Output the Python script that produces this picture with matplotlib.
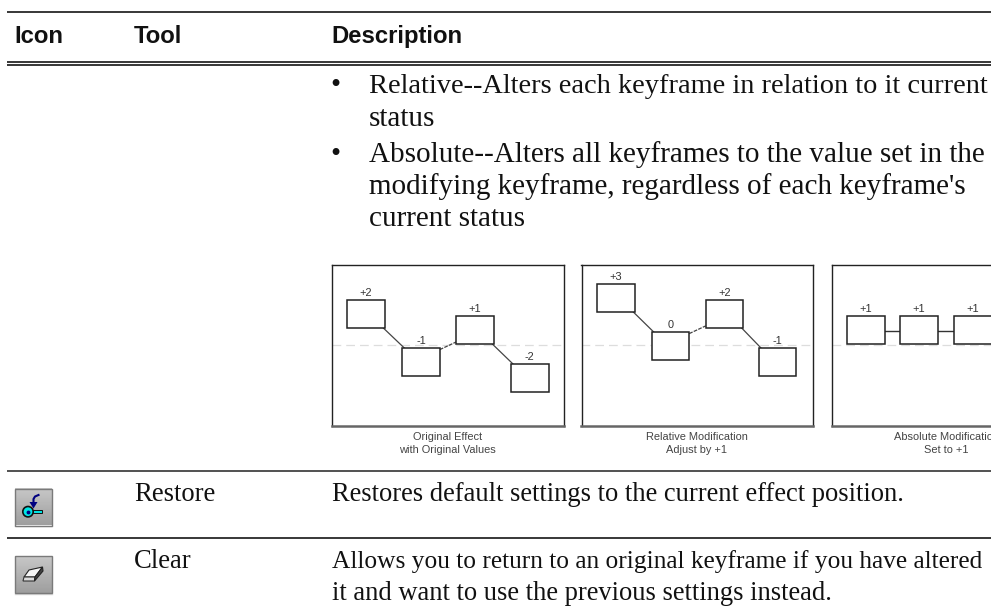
import matplotlib
matplotlib.use("Agg")
import matplotlib.pyplot as plt
import numpy as np
from matplotlib.patches import Rectangle, Polygon, Circle

W, H = 991, 613

# table text
headers = ["Icon", "Tool", "Description"]
header_x = [14.5, 133.5, 331.5]
bullet_1 = ["Relative--Alters each keyframe in relation to it current", "status"]
bullet_2 = ["Absolute--Alters all keyframes to the value set in the",
            "modifying keyframe, regardless of each keyframe's",
            "current status"]
restore_text = ["Restores default settings to the current effect position."]
clear_text = ["Allows you to return to an original keyframe if you have altered",
              "it and want to use the previous settings instead."]

# keyframe values of the three small diagrams
original_values = [2, -1, 1, -2]
original_labels = ["+2", "-1", "+1", "-2"]
relative_values = [3, 0, 2, -1]
relative_labels = ["+3", "0", "+2", "-1"]
absolute_values = [1, 1, 1]
absolute_labels = ["+1", "+1", "+1"]
captions = [["Original Effect", "with Original Values"],
            ["Relative Modification", "Adjust by +1"],
            ["Absolute Modification", "Set to +1"]]

fig = plt.figure(figsize=(W / 100, H / 100), dpi=100)
ax = fig.add_axes([0, 0, 1, 1])
ax.set_xlim(0, W)
ax.set_ylim(H, 0)
ax.axis("off")


def px(size):
    return size * 0.72


def serif(x, y, s, size=26.5):
    ax.text(x, y, s, family="Liberation Serif", fontsize=px(size), color="#111111",
            va="baseline", ha="left")


def rule(y, lw=1.2, color="#151515"):
    ax.plot([7, W], [y, y], color=color, lw=lw, solid_capstyle="butt")


# rules
rule(11.5)
rule(62.3)
rule(65.3)
rule(470.7, color="#333333")
rule(538)

# header
for x, s in zip(header_x, headers):
    ax.text(x, 43, s, family="Liberation Sans", fontweight="bold", fontsize=px(23.9),
            color="#111111", va="baseline", ha="left")

# bullets
big = 29.1
ax.text(330, 93, "•", family="Liberation Serif", fontsize=px(big), color="#111111", va="baseline")
ax.text(330, 161.7, "•", family="Liberation Serif", fontsize=px(big), color="#111111", va="baseline")
serif(369, 93, bullet_1[0], 28.4)
serif(369, 125.7, bullet_1[1], big)
serif(369, 161.7, bullet_2[0], big)
serif(369, 194, bullet_2[1], big)
serif(369, 225.7, bullet_2[2], big)

# rows
serif(134, 501, "Restore", 26.6)
serif(332, 501, restore_text[0])
serif(134, 567.7, "Clear", 26.6)
serif(332, 567.7, clear_text[0], 25.4)
serif(332, 600, clear_text[1])


def diagram(left, right, xs, values, labels, caption, cx):
    top, bottom = 265, 426
    panel = fig.add_axes([left / W, 1 - bottom / H, (right - left) / W, (bottom - top) / H])
    panel.set_xlim(left, right)
    # keyframe value 0 has its box top at y=332, one unit is 16 px
    panel.set_ylim((332 - bottom) / 16, (332 - top) / 16)
    panel.set_xticks([])
    panel.set_yticks([])
    panel.patch.set_alpha(0)
    for sp in panel.spines.values():
        sp.set_linewidth(1.0)
        sp.set_color("#222222")
    panel.spines["bottom"].set_linewidth(1.8)
    panel.spines["bottom"].set_color("#666666")
    # baseline
    base = (332 - 345) / 16
    panel.plot([left, right], [base, base], color="#dddddd", lw=0.9, dashes=(7, 4))
    bw, bh = 37.5, 27.5 / 16
    # connectors first
    for i in range(len(values) - 1):
        a, b = values[i], values[i + 1]
        x0, x1 = xs[i] + bw, xs[i + 1]
        if a > b:
            # down to the top corner of the next box
            panel.plot([x0 - 2, x1 + 2], [a - bh, b], color="#444444", lw=0.9)
        elif a < b:
            # up from near the top of this box to the bottom of the next
            panel.plot([x0, x1], [a - 0.1, b - bh + 0.1], color="#444444", lw=0.9, dashes=(3, 1))
        else:
            panel.plot([x0, x1], [a - bh / 2 - 0.05, b - bh / 2 - 0.05], color="#333333", lw=1.0)
    for x, v, lab in zip(xs, values, labels):
        panel.add_patch(Rectangle((x, v - bh), bw, bh, fc="white", ec="#222222", lw=1.1, zorder=3))
        panel.text(x + bw / 2, v + 0.27, lab, family="Liberation Sans", fontsize=px(11),
                   color="#333333", ha="center", va="baseline", zorder=4)
    for j, s in enumerate(caption):
        ax.text(cx, 440 + j * 13.3, s, family="Liberation Sans", fontsize=px(11),
                color="#444444", ha="center", va="baseline")


diagram(331.7, 564.3, [347.3, 402.3, 456.3, 511], original_values, original_labels, captions[0], 447.5)
diagram(581.5, 812.7, [597.3, 651.7, 705.7, 759], relative_values, relative_labels, captions[1], 697)
diagram(831.7, 1050, [847.3, 900.3, 954.3], absolute_values, absolute_labels, captions[2], 946)


def icon(y0):
    grad = np.linspace(0.78, 0.62, 32).reshape(-1, 1)
    ax.imshow(grad, extent=(15, 52, y0 + 37, y0), cmap="gray", vmin=0, vmax=1, aspect="auto", zorder=2)
    ax.add_patch(Rectangle((15, y0), 37, 37, fc="none", ec="#7a7a7a", lw=1.0, zorder=3))
    ax.plot([15, 52], [y0 + 37.8, y0 + 37.8], color="#d8d8d8", lw=1)


# restore icon, a key with an arrow
icon(488.5)
ax.add_patch(Rectangle((32, 509.7), 10, 3.4, fc="#00e5e5", ec="#111111", lw=0.7, zorder=5))
ax.add_patch(Circle((28, 511.7), 5.2, fc="#00e5e5", ec="#111111", lw=1.2, zorder=6))
ax.plot([28], [511.7], "o", ms=1.8, color="#000080", zorder=7)
ax.plot([38.5, 35, 33.5, 33.5], [495, 496.5, 499, 504], color="#000080", lw=1.5, zorder=5)
ax.add_patch(Polygon([[29.5, 502], [37.5, 502], [33.5, 508.5]], fc="#000080", ec="none", zorder=5))

# clear icon, an eraser
icon(556)
ax.add_patch(Polygon([[24, 577], [35, 577], [42.5, 567], [29, 570]], fc="#f6f6f6", ec="#222222", lw=0.8, zorder=5))
ax.add_patch(Polygon([[24, 577], [35, 577], [34.5, 581], [23, 581]], fc="#dddddd", ec="#333333", lw=0.8, zorder=5))
ax.add_patch(Polygon([[35, 577], [42.5, 567], [43, 571], [34.5, 581]], fc="#444444", ec="#222222", lw=0.8, zorder=5))

# imshow resets the limits
ax.set_xlim(0, W)
ax.set_ylim(H, 0)

fig.savefig("out.png", dpi=100)
